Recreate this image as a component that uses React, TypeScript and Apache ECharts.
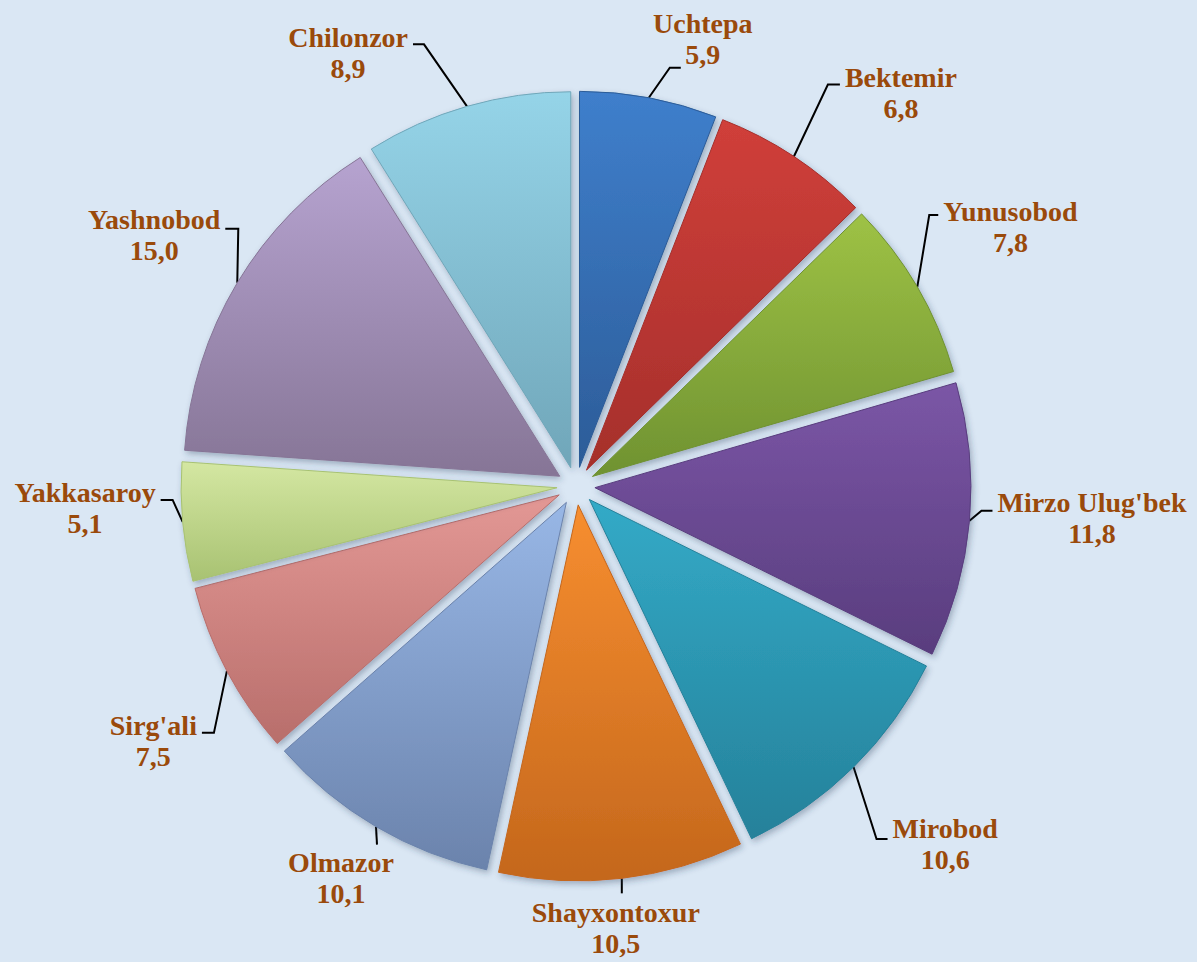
import React, { useEffect, useRef } from "react";
import * as echarts from "echarts";

const districts = [
  "Uchtepa",
  "Bektemir",
  "Yunusobod",
  "Mirzo Ulug'bek",
  "Mirobod",
  "Shayxontoxur",
  "Olmazor",
  "Sirg'ali",
  "Yakkasaroy",
  "Yashnobod",
  "Chilonzor",
];
const shares = [5.9, 6.8, 7.8, 11.8, 10.6, 10.5, 10.1, 7.5, 5.1, 15.0, 8.9];
const topColors = [
  "#3f7fcc", "#d03f3a", "#9ec245", "#7b56a6", "#33aac7", "#f78e30",
  "#98b7e6", "#e39895", "#d4e7a2", "#b6a3d0", "#95d4e8",
];
const bottomColors = [
  "#2c5c98", "#a52f2b", "#6f9231", "#593d7e", "#25819a", "#c4671c",
  "#6b83ac", "#b86e6b", "#a8c272", "#867596", "#70a6b9",
];

// leader-line styling (relative to the slice edge point given by ECharts)
const leaderElbow = [
  [21, -30], [34, -72], [12, -72], [12, -10], [23, 72], [0, 15],
  [1, 18], [-13, 62], [-10, -22], [1, -54], [-43, -62],
];
const leaderTail = [11, 12, 9, 11, 11, 0, 0, -12, -12, -13, -11];
// label anchoring relative to the leader end: dx null = beside the line
const labelDx: (number | null)[] = [22, null, null, null, null, -6, -36, null, null, null, null];
const labelDy = [-29, 8.5, 12, 7, 5, 35, 33, 8.5, 8, 6.5, 8.5];

const RADIUS = 376;
const EXPLODE = 19;

export default function App() {
  const ref = useRef<HTMLDivElement>(null);
  useEffect(() => {
    if (!ref.current) return;
    const chart = echarts.init(ref.current, null, { renderer: "svg" });
    const sliceData = districts.map((name, i) => ({
      name,
      value: shares[i],
      selected: true,
      itemStyle: {
        color: new echarts.graphic.LinearGradient(0, 0, 0, 1, [
          { offset: 0, color: topColors[i] },
          { offset: 1, color: bottomColors[i] },
        ]),
        borderColor: bottomColors[i],
      },
    }));
    const labelData = districts.map((name, i) => ({ name, value: shares[i] }));
    chart.setOption({
      animation: false,
      backgroundColor: "#dae7f4",
      series: [
        {
          type: "pie",
          center: [576, 486],
          radius: [0, RADIUS],
          startAngle: 90,
          clockwise: true,
          selectedMode: "multiple",
          selectedOffset: EXPLODE,
          data: sliceData,
          itemStyle: {
            borderWidth: 1,
            shadowBlur: 6,
            shadowOffsetX: 2,
            shadowOffsetY: 3,
            shadowColor: "rgba(40,60,90,0.35)",
          },
          select: { itemStyle: { borderWidth: 1 } },
          emphasis: { disabled: true },
          label: { show: false },
          labelLine: { show: false },
        },
        {
          type: "pie",
          silent: true,
          center: [576, 486],
          radius: [0, RADIUS + EXPLODE],
          startAngle: 90,
          clockwise: true,
          data: labelData,
          itemStyle: {
            color: "rgba(0,0,0,0)",
            borderWidth: 0,
          },
          emphasis: { disabled: true },
          label: {
            show: true,
            position: "outside",
            fontFamily: "'Liberation Serif', 'Times New Roman', serif",
            fontWeight: "bold",
            fontSize: 28,
            lineHeight: 31,
            color: "#9a4a0b",
            overflow: "none",
            distanceToLabelLine: 3,
            formatter: (p: any) =>
              p.name + "\n" + Number(p.value).toFixed(1).replace(".", ","),
          },
          labelLine: {
            show: true,
            length: 5,
            length2: 5,
            smooth: false,
            lineStyle: { color: "#000000", width: 2 },
          },
          labelLayout: (p: any) => {
            const i = p.dataIndex;
            const p0 = p.labelLinePoints[0];
            const elbow = [p0[0] + leaderElbow[i][0], p0[1] + leaderElbow[i][1]];
            const end = [elbow[0] + leaderTail[i], elbow[1]];
            const w = p.labelRect.width;
            let cx: number;
            const dx = labelDx[i];
            if (dx === null) {
              cx = leaderTail[i] >= 0 ? end[0] + 5 + w / 2 : end[0] - 5 - w / 2;
            } else {
              cx = end[0] + dx;
            }
            return {
              x: cx,
              y: end[1] + labelDy[i],
              align: "center",
              verticalAlign: "middle",
              labelLinePoints: [p0, elbow, end],
            };
          },
        },
      ],
    });
    return () => chart.dispose();
  }, []);
  return (
    <div
      ref={ref}
      style={{ position: "absolute", left: 0, top: 0, width: 1197, height: 962 }}
    />
  );
}
